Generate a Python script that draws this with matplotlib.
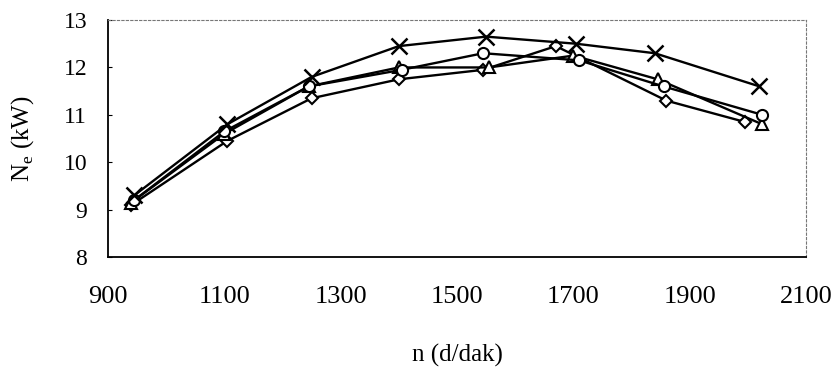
import matplotlib
matplotlib.use("Agg")
import matplotlib.pyplot as plt

plt.rcParams['font.family'] = ['Liberation Serif', 'DejaVu Serif']

# okunan degerler (n, Ne)
n_x = [945, 1105, 1250, 1400, 1550, 1705, 1840, 2020]
ne_x = [9.3, 10.8, 11.8, 12.45, 12.65, 12.5, 12.3, 11.6]

n_o = [945, 1100, 1245, 1405, 1545, 1710, 1855, 2025]
ne_o = [9.2, 10.65, 11.6, 11.95, 12.3, 12.15, 11.6, 11.0]

n_t = [940, 1100, 1245, 1400, 1555, 1700, 1845, 2025]
ne_t = [9.15, 10.6, 11.6, 12.0, 12.0, 12.25, 11.75, 10.8]

n_d = [940, 1105, 1250, 1400, 1545, 1670, 1860, 1995]
ne_d = [9.1, 10.45, 11.35, 11.75, 11.95, 12.45, 11.3, 10.85]

x_ticks = [900, 1100, 1300, 1500, 1700, 1900, 2100]
y_ticks = [8, 9, 10, 11, 12, 13]

fig = plt.figure(figsize=(8.37, 3.71), dpi=100)
ax = fig.add_axes([0.129, 0.307, 0.834, 0.639])

ax.plot(n_d, ne_d, color="black", lw=1.7, marker="D", ms=6, mfc="white", mec="black", mew=1.5)
ax.plot(n_t, ne_t, color="black", lw=1.7, marker="^", ms=8, mfc="white", mec="black", mew=1.5)
ax.plot(n_o, ne_o, color="black", lw=1.7, marker="o", ms=8, mfc="white", mec="black", mew=1.5)
ax.plot(n_x, ne_x, color="black", lw=1.7, marker="x", ms=12, mew=1.8)

ax.set_xlim(900, 2100)
ax.set_ylim(8, 13)
ax.set_xticks(x_ticks)
ax.set_yticks(y_ticks)
ax.tick_params(axis="x", length=0, pad=21, labelsize=19)
ax.tick_params(axis="y", length=3, direction="in", pad=15, labelsize=17)

for s in ["left", "bottom"]:
    ax.spines[s].set_linewidth(1.3)
for s in ["top", "right"]:
    ax.spines[s].set_linestyle((0, (2, 2)))
    ax.spines[s].set_linewidth(0.8)
    ax.spines[s].set_color("#777777")

ax.set_xlabel("n (d/dak)", fontsize=18, labelpad=26)
ax.set_ylabel("N$_\\mathregular{e}$ (kW)", fontsize=18, labelpad=20)

fig.savefig("out.png", dpi=100)
